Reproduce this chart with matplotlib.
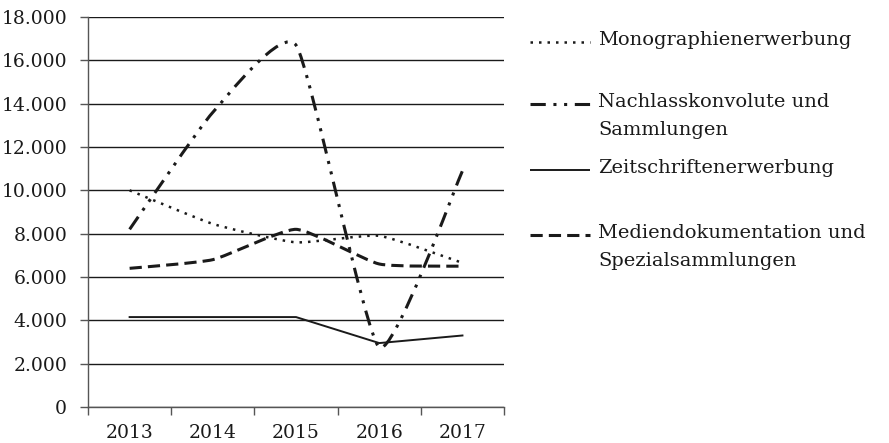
import matplotlib.pyplot as plt
from matplotlib.path import Path
from matplotlib.patches import PathPatch
from matplotlib.lines import Line2D
from matplotlib.ticker import FuncFormatter
import numpy as np

years = ['2013', '2014', '2015', '2016', '2017']
monographien = [10000, 8450, 7600, 7900, 6650]
nachlass = [8200, 13600, 16700, 2750, 10900]
zeitschriften = [4150, 4150, 4150, 2950, 3300]
medien = [6400, 6800, 8200, 6600, 6500]

labels = ['Monographienerwerbung', 'Nachlasskonvolute und\nSammlungen',
          'Zeitschriftenerwerbung', 'Mediendokumentation und\nSpezialsammlungen']

plt.rcParams['font.family'] = ['DejaVu Serif']
INK = '#1a1a1a'


def smooth_path(xs, ys, k=12):
    # leichte Bezier-Glättung wie bei Excel-Linien
    pts = np.column_stack([xs, ys]).astype(float)
    verts = [pts[0]]
    codes = [Path.MOVETO]
    n = len(pts)
    for i in range(n - 1):
        p0 = pts[i - 1] if i > 0 else pts[i]
        p1 = pts[i]
        p2 = pts[i + 1]
        p3 = pts[i + 2] if i + 2 < n else pts[i + 1]
        c1 = p1 + (p2 - p0) / k
        c2 = p2 - (p3 - p1) / k
        verts += [c1, c2, p2]
        codes += [Path.CURVE4] * 3
    return Path(verts, codes)


fig = plt.figure(figsize=(8.89, 4.43), dpi=100)
ax = fig.add_axes([0.099, 0.0813, 0.468, 0.8803])

x = np.arange(len(years))
styles = [
    dict(lw=1.8, ls=(0, (1, 2.4))),
    dict(lw=2.2, ls=(0, (5, 2.5, 1, 2.5, 1, 2.5))),
    dict(lw=1.4, ls='-'),
    dict(lw=2.2, ls=(0, (4, 2))),
]
series = [monographien, nachlass, zeitschriften, medien]

for vals, st in zip(series, styles):
    if st['ls'] == '-':
        ax.plot(x, vals, color=INK, lw=st['lw'], zorder=3)
    else:
        patch = PathPatch(smooth_path(x, vals), fill=False, edgecolor=INK,
                          lw=st['lw'], linestyle=st['ls'], capstyle='butt', zorder=3)
        ax.add_patch(patch)

ax.set_xlim(-0.5, len(years) - 0.5)
ax.set_ylim(0, 18000)
ax.set_yticks(np.arange(0, 18001, 2000))
ax.yaxis.set_major_formatter(FuncFormatter(lambda v, p: f'{int(v):,}'.replace(',', '.')))
ax.yaxis.grid(True, color=INK, lw=1)
ax.set_axisbelow(True)

ax.set_xticks(np.arange(-0.5, len(years), 1))
ax.set_xticklabels([])
ax.set_xticks(x, minor=True)
ax.set_xticklabels(years, minor=True)
ax.tick_params(axis='x', which='minor', length=0, pad=12, labelsize=13.5, colors=INK)
ax.tick_params(axis='x', which='major', length=6, width=1, color='#555555')
ax.tick_params(axis='y', length=6, width=1, color='#555555', labelsize=13.5, labelcolor=INK, pad=9)

for s in ['top', 'right']:
    ax.spines[s].set_visible(False)
for s in ['left', 'bottom']:
    ax.spines[s].set_color('#555555')
    ax.spines[s].set_linewidth(1)

# Legende rechts
W, H = 889, 443
leg_y = [42, 104, 170, 235]
for lab, st, yy in zip(labels, styles, leg_y):
    fig.add_artist(Line2D([530 / W, 590 / W], [1 - yy / H, 1 - yy / H], color=INK,
                          lw=st['lw'], linestyle=st['ls'], solid_capstyle='butt',
                          dash_capstyle='butt'))
    fig.text(598 / W, 1 - (yy - 11) / H, lab, fontsize=14, color=INK,
             va='top', ha='left', linespacing=1.7)

fig.savefig('out.png', dpi=100)
